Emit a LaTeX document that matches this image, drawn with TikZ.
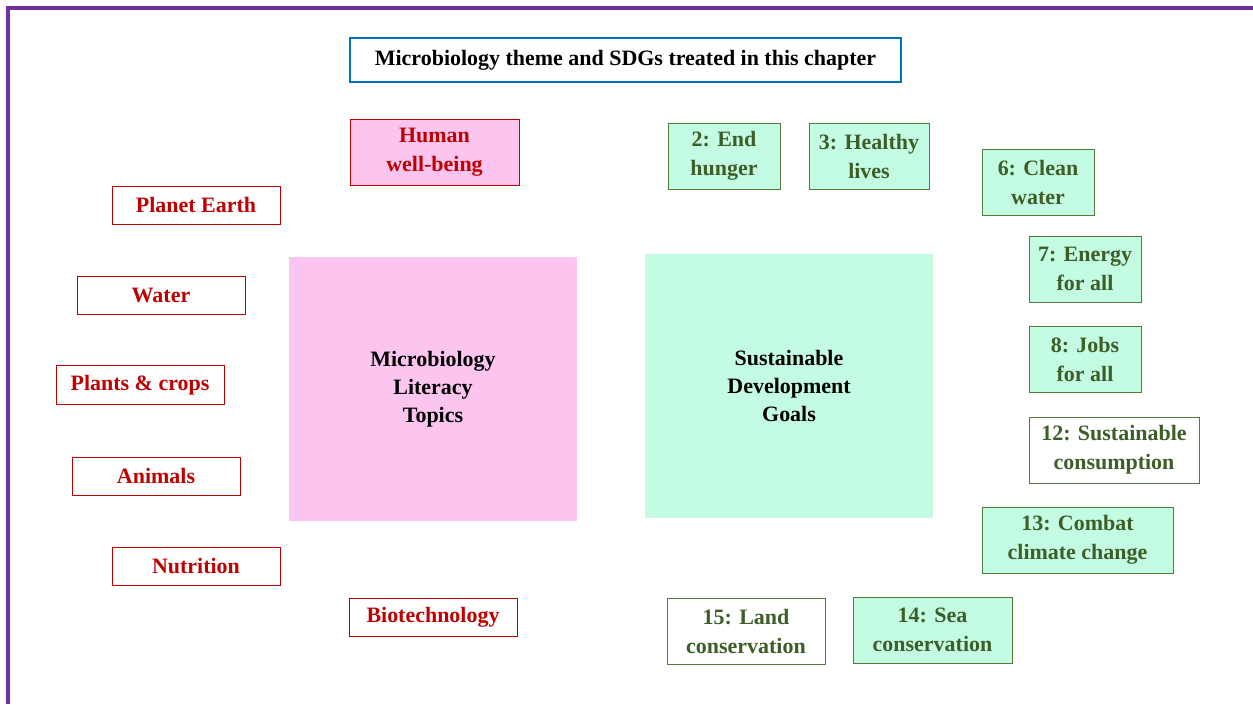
\documentclass[tikz,border=0pt]{standalone}
\usepackage{fontspec}
\setmainfont{Liberation Serif}
\usepackage{xcolor}
\usepackage{tikz}
\usetikzlibrary{positioning, calc}

\definecolor{frameviolet}{HTML}{7030A0}
\definecolor{titleblue}{HTML}{0070C0}
\definecolor{topicred}{HTML}{C00000}
\definecolor{topicpink}{HTML}{FCC5F0}
\definecolor{goalgreen}{HTML}{3E5E28}
\definecolor{goalline}{HTML}{557A3C}
\definecolor{goalmint}{HTML}{C3FCE3}

\tikzset{
  sz/.style 2 args={minimum width=#1*0.02cm, minimum height=#2*0.02cm},
  lbl/.style={inner sep=0pt, align=center, font=\bfseries\fontsize{12.5}{16.5}\selectfont},
  titlebox/.style={lbl, draw=titleblue, line width=1pt, fill=white, text=black},
  topic/.style={lbl, draw=topicred, line width=0.45pt, fill=white, text=topicred},
  topicfill/.style={topic, fill=topicpink},
  goal/.style={lbl, draw=goalline, line width=0.45pt, fill=goalmint, text=goalgreen},
  goalplain/.style={goal, fill=white},
  bigbox/.style={lbl, text=black, font=\bfseries\fontsize{12.5}{15.8}\selectfont}
}

\begin{document}
\begin{tikzpicture}[x=0.02cm, y=-0.02cm]
    \useasboundingbox (0,0) rectangle (1253,704);
    \draw[frameviolet, line width=2pt] (8,704) -- (8,8) -- (1253,8);

    \node[titlebox, sz={551}{44}] (title) at (625.5,60) {Microbiology theme and SDGs treated in this chapter};

    % topics side
    \node[bigbox, fill=topicpink, sz={288}{264}] (topics) at (433,389) {Microbiology\\Literacy\\Topics};
    \node[topicfill, sz={169}{66}] (human) at (434.5,152) {Human\\well-being};
    \node[topic, sz={168}{38}] (earth) at (196,205) {Planet Earth};
    \node[topic, sz={168}{38}] (water) at (161,295) {Water};
    \node[topic, sz={168}{39}] (plants) at (140,385) {Plants \& crops};
    \node[topic, sz={168}{38}] (animals) at (156,476) {Animals};
    \node[topic, sz={168}{38}] (nutrition) at (196,566) {Nutrition};
    \node[topic, sz={168}{38}] (biotech) at (433,617) {Biotechnology};

    % goals side
    \node[bigbox, fill=goalmint, sz={288}{264}] (sdgs) at (789,386) {Sustainable\\Development\\Goals};
    \node[goal, sz={112}{66}] (sdg2) at (724,156) {2: End\\hunger};
    \node[goal, sz={120}{66}] (sdg3) at (869,156) {3: Healthy\\lives};
    \node[goal, sz={112}{66}] (sdg6) at (1038,182) {6: Clean\\water};
    \node[goal, sz={112}{66}] (sdg7) at (1085,269) {7: Energy\\for all};
    \node[goal, sz={112}{66}] (sdg8) at (1085,359) {8: Jobs\\for all};
    \node[goalplain, sz={170}{66}] (sdg12) at (1114,450) {12: Sustainable\\consumption};
    \node[goal, sz={191}{66}] (sdg13) at (1077.5,540) {13: Combat\\climate change};
    \node[goal, sz={159}{66}] (sdg14) at (932.5,630) {14: Sea\\conservation};
    \node[goalplain, sz={158}{66}] (sdg15) at (746,631) {15: Land\\conservation};
\end{tikzpicture}
\end{document}
